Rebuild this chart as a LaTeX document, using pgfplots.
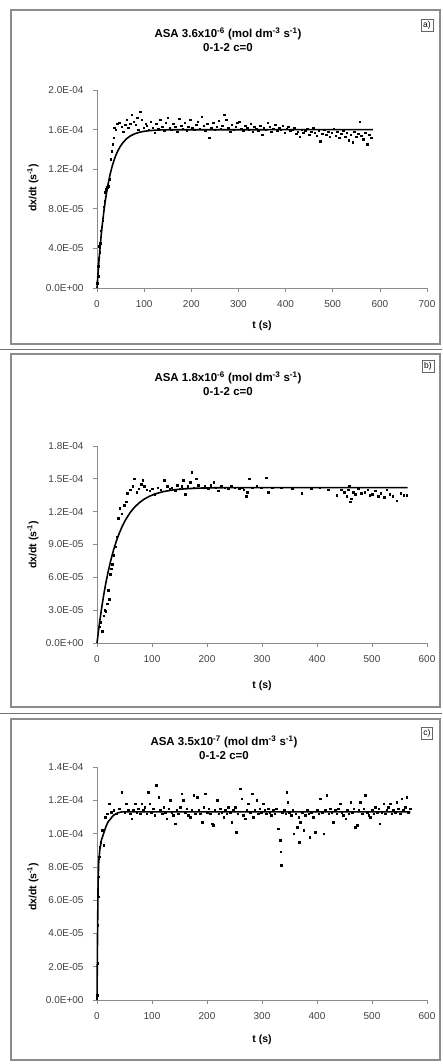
\documentclass[border=0pt]{standalone}
\usepackage{fontspec}
\setmainfont{Liberation Sans}
\usepackage{pgfplots}
\pgfplotsset{compat=1.18}
\pgfplotsset{
  refstyle/.style={
    scale only axis, width=330pt,
    axis x line=bottom, axis y line=left,
    axis line style={-, draw=black!45, line width=0.9pt},
    tick style={draw=black!45, line width=0.7pt},
    tick align=outside, major tick length=4pt,
    tick label style={font=\fontsize{10}{12}\selectfont, text=black!75},
    xticklabel style={yshift=-5pt},
    yticklabel style={xshift=-6pt},
    clip=false,
  },
  fitline/.style={black, line width=1.6pt, no marks},
  pts/.style={only marks, mark=square*, mark size=0.8pt, black},
}
\tikzset{
  ttl/.style={align=center, font=\bfseries\fontsize{11.5}{14}\selectfont},
  ylab/.style={rotate=90, font=\bfseries\fontsize{10.5}{12}\selectfont},
  xlab/.style={font=\bfseries\fontsize{10.5}{12}\selectfont},
  boxlab/.style={draw=black!60, line width=0.6pt, inner sep=2.2pt, font=\fontsize{8.5}{10}\selectfont},
}
\begin{document}
\begin{tikzpicture}
\path[use as bounding box] (0pt,0pt) rectangle (442pt,-1064pt);
% frames
\draw[black!45, line width=1.5pt] (11pt,-10pt) rectangle (440pt,-344pt);
\draw[black!55, line width=1pt] (0pt,-349pt) -- (442pt,-349pt);
\draw[black!45, line width=1.5pt] (11pt,-354pt) rectangle (440pt,-707pt);
\draw[black!55, line width=1pt] (0pt,-713pt) -- (442pt,-713pt);
\draw[black!45, line width=1.5pt] (11pt,-719pt) rectangle (440pt,-1060pt);

% ---------------- panel a ----------------
\begin{axis}[refstyle, at={(97pt,-288pt)}, anchor=south west, height=198pt,
  xmin=0, xmax=700, ymin=0, ymax=2,
  xtick={0,100,200,300,400,500,600,700},
  xticklabels={0,100,200,300,400,500,600,700},
  ytick={0,0.4,0.8,1.2,1.6,2.0},
  yticklabels={0.0E+00,4.0E-05,8.0E-05,1.2E-04,1.6E-04,2.0E-04}]
\addplot[pts] coordinates {
(1,0.05) (2,0.12) (3,0.22) (4,0.30) (5,0.42) (6,0.36) (7,0.45) (8,0.58) (10,0.62) (12,0.68)
(14,0.82) (16,0.88) (18,0.97) (20,1.00) (22,1.02) (24,1.03) (27,1.10) (29,1.30) (31,1.38) (33,1.45)
(35,1.52) (37,1.62) (40,1.60) (43,1.66) (47,1.67) (52,1.63) (56,1.58) (60,1.65) (63,1.70) (66,1.62)
(70,1.66) (74,1.75) (78,1.68) (82,1.65) (85,1.72) (88,1.60) (92,1.78) (95,1.70) (99,1.62) (103,1.66)
(105,1.64) (110,1.60) (114,1.68) (118,1.62) (122,1.57) (126,1.66) (130,1.61) (134,1.70) (138,1.63) (142,1.59)
(146,1.67) (150,1.72) (154,1.62) (158,1.60) (162,1.66) (166,1.63) (170,1.58) (174,1.71) (178,1.64) (182,1.61)
(186,1.67) (190,1.59) (194,1.63) (198,1.70) (202,1.62) (206,1.60) (210,1.65) (214,1.68) (218,1.61) (222,1.73)
(226,1.64) (230,1.59) (234,1.66) (238,1.52) (242,1.62) (246,1.67) (250,1.60) (254,1.63) (258,1.69) (262,1.61)
(266,1.64) (270,1.75) (274,1.70) (278,1.62) (282,1.58) (286,1.65) (290,1.60) (294,1.63) (298,1.67) (302,1.68)
(306,1.61) (310,1.59) (314,1.64) (318,1.62) (322,1.60) (326,1.66) (330,1.58) (334,1.63) (338,1.61) (342,1.59)
(346,1.64) (350,1.55) (354,1.62) (358,1.60) (362,1.67) (366,1.63) (370,1.58) (374,1.61) (378,1.65) (382,1.59)
(386,1.62) (390,1.60) (394,1.64) (398,1.57) (402,1.61) (406,1.63) (410,1.59) (414,1.60) (418,1.62) (422,1.56)
(426,1.58) (430,1.53) (434,1.60) (438,1.57) (442,1.59) (446,1.61) (450,1.55) (454,1.58) (458,1.62) (462,1.57)
(466,1.54) (470,1.59) (474,1.48) (478,1.56) (482,1.60) (486,1.55) (490,1.58) (494,1.53) (498,1.57) (502,1.61)
(506,1.54) (510,1.58) (514,1.52) (518,1.56) (522,1.59) (526,1.53) (530,1.57) (534,1.49) (538,1.55) (542,1.47)
(546,1.58) (550,1.53) (554,1.56) (557,1.68) (561,1.54) (565,1.50) (569,1.57) (573,1.45) (577,1.55) (581,1.52)
};
\addplot[fitline] coordinates {
(0,0) (3,0.204) (6,0.383) (9,0.538) (12,0.672) (15,0.790) (18,0.894) (21,0.984) (24,1.062) (28,1.152)
(32,1.227) (36,1.288) (40,1.341) (45,1.393) (50,1.435) (56,1.474) (63,1.509) (70,1.534) (80,1.558) (90,1.573)
(100,1.583) (115,1.591) (130,1.596) (150,1.598) (585,1.600)
};
\end{axis}
\node[ttl] at (228pt,-40pt)
  {ASA 3.6x10\textsuperscript{-6} (mol dm\textsuperscript{-3} s\textsuperscript{-1})\\0-1-2 c=0};
\node[ylab] at (33pt,-188pt) {dx/dt (s\textsuperscript{-1})};
\node[xlab] at (262pt,-326pt) {t (s)};
\node[boxlab] at (427pt,-25pt) {a)};

% ---------------- panel b ----------------
\begin{axis}[refstyle, at={(97pt,-643pt)}, anchor=south west, height=197pt,
  xmin=0, xmax=600, ymin=0, ymax=1.8,
  xtick={0,100,200,300,400,500,600},
  xticklabels={0,100,200,300,400,500,600},
  ytick={0,0.3,0.6,0.9,1.2,1.5,1.8},
  yticklabels={0.0E+00,3.0E-05,6.0E-05,9.0E-05,1.2E-04,1.5E-04,1.8E-04}]
\addplot[pts] coordinates {
(5,0.15) (7,0.19) (9,0.11) (12,0.25) (14,0.30) (16,0.29) (18,0.36) (20,0.48) (22,0.40) (24,0.63)
(26,0.68) (28,0.72) (30,0.80) (33,0.88) (36,0.97) (39,1.14) (41,1.23) (45,1.18) (49,1.26) (53,1.29)
(55,1.37) (60,1.40) (65,1.43) (68,1.50) (72,1.38) (76,1.41) (80,1.45) (83,1.49) (86,1.43) (90,1.40)
(96,1.39) (100,1.41) (105,1.36) (110,1.42) (116,1.40) (122,1.49) (128,1.43) (132,1.41) (136,1.42) (142,1.39)
(146,1.44) (150,1.41) (154,1.43) (157,1.49) (160,1.36) (165,1.43) (169,1.47) (172,1.56) (176,1.42) (180,1.50)
(184,1.44) (190,1.42) (196,1.43) (202,1.41) (207,1.44) (212,1.47) (216,1.42) (220,1.39) (226,1.43) (232,1.42)
(238,1.41) (244,1.43) (250,1.42) (258,1.41) (264,1.42) (267,1.40) (271,1.34) (273,1.38) (277,1.50) (282,1.42)
(290,1.43) (298,1.42) (308,1.51) (311,1.38) (318,1.42) (335,1.42) (355,1.41) (372,1.37) (390,1.41) (405,1.42)
(420,1.40) (436,1.35) (444,1.40) (450,1.38) (454,1.34) (457,1.40) (459,1.43) (460,1.29) (462,1.32) (466,1.38)
(470,1.36) (475,1.41) (480,1.37) (487,1.38) (492,1.40) (496,1.35) (500,1.36) (506,1.39) (511,1.34) (516,1.37)
(522,1.33) (527,1.40) (532,1.36) (538,1.34) (545,1.30) (552,1.37) (558,1.35) (563,1.35)
};
\addplot[fitline] coordinates {
(0,0) (4,0.162) (8,0.305) (12,0.433) (16,0.546) (20,0.645) (25,0.754) (30,0.848) (35,0.928) (40,0.997)
(46,1.068) (52,1.126) (60,1.190) (68,1.239) (76,1.278) (85,1.312) (95,1.340) (105,1.361) (120,1.383) (140,1.400)
(160,1.409) (185,1.415) (220,1.419) (565,1.420)
};
\end{axis}
\node[ttl] at (228pt,-384pt)
  {ASA 1.8x10\textsuperscript{-6} (mol dm\textsuperscript{-3} s\textsuperscript{-1})\\0-1-2 c=0};
\node[ylab] at (33pt,-545pt) {dx/dt (s\textsuperscript{-1})};
\node[xlab] at (262pt,-686pt) {t (s)};
\node[boxlab] at (428pt,-366pt) {b)};

% ---------------- panel c ----------------
\begin{axis}[refstyle, at={(97pt,-1000pt)}, anchor=south west, height=233pt,
  xmin=0, xmax=600, ymin=0, ymax=1.4,
  xtick={0,100,200,300,400,500,600},
  xticklabels={0,100,200,300,400,500,600},
  ytick={0,0.2,0.4,0.6,0.8,1.0,1.2,1.4},
  yticklabels={0.0E+00,2.0E-05,4.0E-05,6.0E-05,8.0E-05,1.0E-04,1.2E-04,1.4E-04}]
\addplot[pts] coordinates {
(0.5,0.03) (1,0.22) (1.5,0.45) (2,0.62) (3,0.74) (4,0.86) (5,0.92) (7,0.95) (9,1.02) (12,0.93)
(15,1.10) (19,1.12) (22,1.18) (26,1.13) (30,1.14) (35,1.12) (40,1.15) (45,1.25) (50,1.13) (53,1.18)
(57,1.14) (60,1.12) (63,1.09) (66,1.14) (69,1.18) (72,1.13) (75,1.15) (78,1.12) (81,1.18) (84,1.14)
(87,1.16) (90,1.12) (93,1.25) (96,1.18) (99,1.13) (102,1.15) (105,1.11) (108,1.29) (112,1.22) (115,1.14)
(118,1.12) (121,1.16) (124,1.13) (127,1.09) (130,1.15) (133,1.20) (136,1.13) (139,1.11) (142,1.06) (145,1.14)
(148,1.12) (151,1.16) (154,1.24) (157,1.20) (160,1.13) (163,1.15) (166,1.11) (169,1.10) (172,1.14) (176,1.23)
(179,1.12) (182,1.22) (185,1.14) (188,1.12) (191,1.07) (194,1.16) (197,1.24) (200,1.13) (203,1.15) (206,1.12)
(209,1.06) (211,1.05) (214,1.14) (218,1.20) (221,1.12) (224,1.15) (227,1.13) (230,1.10) (233,1.14) (236,1.12)
(239,1.16) (242,1.13) (245,1.07) (248,1.14) (251,1.16) (253,1.01) (256,1.12) (260,1.27) (263,1.21) (266,1.11)
(269,1.09) (272,1.14) (275,1.18) (278,1.13) (282,1.24) (284,1.10) (287,1.14) (290,1.20) (293,1.12) (296,1.15)
(299,1.13) (302,1.18) (305,1.14) (308,1.12) (311,1.15) (314,1.13) (317,1.11) (320,1.14) (323,1.12) (326,1.15)
(330,1.03) (333,0.96) (334,0.89) (335,0.81) (337,1.13) (340,1.14) (343,1.12) (345,1.25) (347,1.19) (350,1.13)
(353,1.11) (356,1.14) (358,1.00) (361,1.12) (364,1.04) (367,1.10) (368,0.95) (370,1.07) (373,1.13) (376,1.02)
(379,1.11) (382,1.14) (385,1.12) (387,0.98) (390,1.13) (393,1.10) (397,1.01) (400,1.14) (403,1.12) (406,1.21)
(409,1.13) (412,1.00) (415,1.14) (418,1.23) (421,1.12) (424,1.15) (427,1.13) (430,1.07) (433,1.14) (436,1.12)
(439,1.15) (442,1.18) (445,1.13) (448,1.11) (452,1.09) (455,1.14) (458,1.12) (461,1.19) (464,1.13) (467,1.15)
(469,1.04) (473,1.05) (476,1.14) (479,1.19) (482,1.12) (485,1.15) (488,1.23) (491,1.13) (494,1.11) (497,1.10)
(500,1.14) (503,1.12) (506,1.16) (509,1.13) (512,1.15) (514,1.06) (518,1.13) (521,1.18) (524,1.12) (527,1.14)
(530,1.16) (533,1.18) (536,1.12) (539,1.14) (542,1.13) (545,1.19) (548,1.15) (551,1.12) (554,1.21) (557,1.14)
(560,1.16) (563,1.22) (566,1.13) (569,1.15)
};
\addplot[fitline] coordinates {
(0,0) (1,0.40) (2,0.70) (3,0.82) (5,0.90) (8,0.96) (12,1.00) (16,1.04) (20,1.07) (25,1.09)
(30,1.11) (38,1.125) (45,1.13) (570,1.13)
};
\end{axis}
\node[ttl] at (224pt,-748pt)
  {ASA 3.5x10\textsuperscript{-7} (mol dm\textsuperscript{-3} s\textsuperscript{-1})\\0-1-2 c=0};
\node[ylab] at (33pt,-887pt) {dx/dt (s\textsuperscript{-1})};
\node[xlab] at (262pt,-1040pt) {t (s)};
\node[boxlab] at (427pt,-733pt) {c)};
\end{tikzpicture}
\end{document}
